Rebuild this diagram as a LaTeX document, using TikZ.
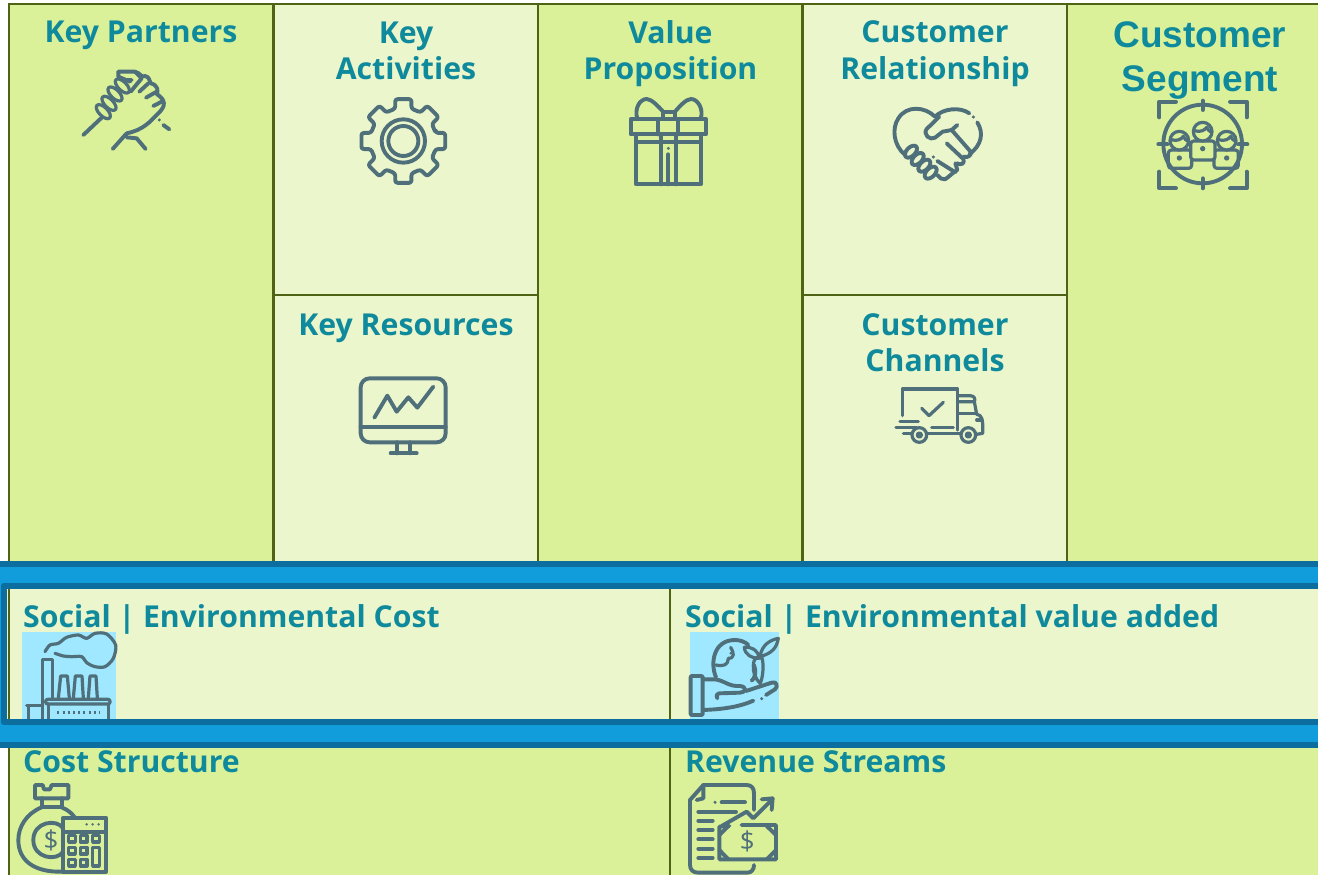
\documentclass[tikz,border=0pt]{standalone}
\usepackage{fontspec}
\setmainfont{Open Sans}
\newfontfamily\arialfont{Liberation Sans}
\definecolor{cellgreen}{HTML}{DAF19A}
\definecolor{celllight}{HTML}{EBF6CC}
\definecolor{gridline}{HTML}{4F6314}
\definecolor{bandblue}{HTML}{119DDB}
\definecolor{banddark}{HTML}{0B6E9F}
\definecolor{labelteal}{HTML}{0F8A9D}
\definecolor{iconcol}{HTML}{4F6F7A}
\definecolor{iconback}{HTML}{9FE8FF}
\tikzset{
  cellbox/.style={draw=gridline,line width=2.4pt},
  cellgr/.style={cellbox,fill=cellgreen},
  celllt/.style={cellbox,fill=celllight},
  lab/.style={text=labelteal,font=\fontsize{30.2}{36.5}\selectfont\bfseries,align=center,inner sep=0pt},
  leftlab/.style={lab,anchor=west},
  seglab/.style={text=labelteal,font=\arialfont\fontsize{37}{43.5}\selectfont\bfseries,align=center,inner sep=0pt},
  ic/.style={draw=iconcol,line width=3.9pt,line cap=round,line join=round},
  icsm/.style={ic,line width=3.2pt},
  zoomed/.style={x=0.33333pt,y=-0.33333pt}
}
\begin{document}
\begin{tikzpicture}[x=1pt,y=-1pt]
\clip (0,0) rectangle (1318,875);
\fill[white] (0,0) rectangle (1318,875);
% grid
\draw[cellgr] (9,4) rectangle (273.5,570);
\draw[celllt] (273.5,4) rectangle (538,295);
\draw[celllt] (273.5,295) rectangle (538,570);
\draw[cellgr] (538,4) rectangle (802.5,570);
\draw[celllt] (802.5,4) rectangle (1067,295);
\draw[celllt] (802.5,295) rectangle (1067,570);
\draw[cellgr] (1067,4) rectangle (1325,570);
\draw[cellgr] (9,735) rectangle (670,885);
\draw[cellgr] (670,735) rectangle (1325,885);
% bands
\draw[draw=banddark,fill=bandblue,line width=6pt] (-6,563.5) rectangle (1326,744.5);
\fill[celllight] (3.5,586) rectangle (1326,722);
\draw[gridline,line width=2.4pt] (9,586) -- (9,722);
\draw[gridline,line width=2.4pt] (670,586) -- (670,722);
\fill[iconback] (22,632) rectangle (116,722);
\fill[iconback] (689.7,632) rectangle (778.7,722);
% factory
\begin{scope}[shift={(0,550)},zoomed]
 \draw[icsm] (128,510) -- (128,328) -- (157,328) -- (157,445);
 \draw[icsm] (175,445) -- (182,378) -- (202,378) -- (208,445);
 \draw[icsm] (220,445) -- (226,378) -- (246,378) -- (250,445);
 \draw[icsm] (265,445) -- (270,378) -- (288,378) -- (292,445);
 \draw[icsm,rounded corners=2pt] (137,448) rectangle (330,462);
 \draw[icsm] (145,462) -- (145,510) (325,462) -- (325,510);
 \draw[icsm] (80,466) -- (128,466) (85,470) -- (85,510);
 \draw[icsm,line cap=butt,dash pattern=on 2pt off 3.2pt] (172,488) -- (300,488);
 \draw[icsm] plot[smooth] coordinates {(135,305) (150,285) (175,280) (200,262) (235,255) (260,265) (285,250) (320,252) (347,285) (340,325) (315,350) (285,350) (260,338) (245,320) (215,320) (190,318) (165,310)};
\end{scope}
% globe in hand
\begin{scope}[shift={(660,590)},zoomed]
 \draw[ic,rounded corners=1pt] (92,258) rectangle (128,375);
 \draw[ic] (128,268) -- (165,268) .. controls (195,272) and (205,290) .. (240,288) .. controls (262,290) and (258,308) .. (240,308) -- (178,310) .. controls (168,312) and (168,322) .. (172,325);
 \draw[ic] (128,360) .. controls (190,358) and (240,350) .. (280,332);
 \draw[ic] (258,303) -- (335,278) .. controls (350,272) and (355,290) .. (345,298) -- (318,315);
 \fill[iconcol] (305,326) circle[radius=5];
 \draw[ic] (168,262) .. controls (150,220) and (160,150) .. (225,150) .. controls (240,150) and (255,155) .. (265,165);
 \draw[ic] (282,225) .. controls (290,245) and (285,265) .. (275,272);
 \draw[icsm] (168,225) .. controls (190,230) and (205,225) .. (205,205) .. controls (225,205) and (222,188) .. (212,172);
 \fill[iconcol] (212,190) circle[radius=4];
 \draw[icsm] (300,200) .. controls (305,165) and (330,150) .. (355,145) .. controls (350,175) and (335,190) .. (300,200);
 \draw[icsm] (300,205) .. controls (290,175) and (270,170) .. (253,172) .. controls (255,195) and (275,205) .. (298,205);
 \draw[icsm] (280,225) .. controls (280,210) and (290,195) .. (305,200) .. controls (315,230) and (305,275) .. (300,280) .. controls (285,265) and (278,245) .. (280,225);
\end{scope}
% frame
\draw[banddark,line width=6pt,line join=round] (3.5,586) rectangle (1326,722);
% key partners icon
\begin{scope}[shift={(60,50)},zoomed]
 \draw[ic] (70,255) -- (125,203);
 \foreach \cx/\cy in {130/185,147/160,165/132,187/108}
   \draw[icsm,fill=cellgreen] (\cx,\cy) ellipse[x radius=27,y radius=13,rotate=-45];
 \draw[ic] (175,65) -- (225,65) .. controls (240,68) and (245,85) .. (255,78) .. controls (268,80) and (268,92) .. (272,100) .. controls (295,105) and (295,125) .. (290,132) .. controls (318,150) and (318,168) .. (295,190) .. controls (270,215) and (250,240) .. (200,250);
 \draw[ic] (158,297) -- (200,250) (200,262) -- (230,265) -- (257,297);
 \draw[ic] (238,125) -- (265,100) (258,143) -- (290,125) (280,168) -- (305,155);
 \draw[ic] (175,65) -- (175,80) -- (210,95) (187,90) -- (215,90) (212,125) -- (245,85) -- (225,65);
 \fill[iconcol] (298,210) circle[radius=5];
 \draw[ic] (310,225) -- (328,238);
\end{scope}
% gear
\begin{scope}[shift={(340,85)},zoomed]
 \begin{scope}[shift={(190,168)}]
  \draw[ic,rounded corners=2.5pt] (0-14:100) \foreach \a in {0,45,...,315} { -- (\a-14:100) -- (\a-11:128) -- (\a+11:128) -- (\a+14:100)} -- cycle;
  \draw[ic] (0,0) circle[radius=65];
  \draw[ic] (0,0) circle[radius=45];
 \end{scope}
\end{scope}
% gift
\begin{scope}[shift={(610,85)},zoomed]
 \draw[ic] (62,102) rectangle (288,148);
 \draw[ic] (145,102) -- (145,148) (205,102) -- (205,148);
 \draw[ic] (78,148) rectangle (273,298);
 \draw[ic] (78,172) -- (273,172);
 \draw[ic] (153,148) -- (153,298) (197,148) -- (197,298);
 \draw[ic] (175,208) -- (175,298);
 \fill[iconcol] (175,190) circle[radius=5];
 \draw[ic] (160,80) rectangle (195,102);
 \draw[ic] (82,102) .. controls (72,70) and (90,42) .. (110,42) .. controls (125,42) and (145,65) .. (160,80);
 \draw[ic] (272,102) .. controls (282,70) and (262,42) .. (243,42) .. controls (228,42) and (208,65) .. (195,80);
\end{scope}
% heart handshake
\begin{scope}[shift={(880,95)},zoomed]
 \draw[ic] (75,180) .. controls (40,150) and (35,100) .. (55,70) .. controls (80,30) and (135,35) .. (165,65) .. controls (190,40) and (240,35) .. (268,55);
 \fill[iconcol] (280,66) circle[radius=5];
 \draw[ic] (292,82) .. controls (312,115) and (305,150) .. (268,178);
 \draw[ic] (178,65) -- (140,102) .. controls (128,118) and (150,138) .. (165,128) -- (188,110) -- (215,105) -- (232,90);
 \draw[ic] (215,105) -- (272,170) .. controls (275,180) and (265,190) .. (250,185);
 \draw[ic] (200,145) -- (250,192) .. controls (255,205) and (245,212) .. (230,205);
 \draw[ic] (172,198) -- (226,232) (226,205) -- (232,225) .. controls (215,235) and (208,245) .. (195,253) .. controls (185,255) and (178,248) .. (172,240);
 \foreach \cx/\cy in {93/170,113/192,133/212,152/233}
   \draw[ic,fill=celllight] (\cx,\cy) ellipse[x radius=22,y radius=13,rotate=45];
 \fill[iconcol] (160,186) circle[radius=5];
\end{scope}
% target people
\begin{scope}[shift={(1140,90)},zoomed]
 \draw[ic] (188,162) circle[radius=118];
 \draw[ic] (188,32) -- (188,60) (188,265) -- (188,295) (55,163) -- (82,163) (295,163) -- (322,163);
 \draw[ic] (58,82) -- (58,35) -- (108,35) (270,35) -- (320,35) -- (320,82) (58,245) -- (58,295) -- (108,295) (270,295) -- (320,295) -- (320,245);
 \draw[icsm,rounded corners=3pt] (85,235) -- (85,180) -- (155,180) -- (155,235) -- cycle;
 \draw[icsm,rounded corners=3pt] (222,235) -- (222,180) -- (295,180) -- (295,235) -- cycle;
 \draw[icsm,fill=cellgreen,rounded corners=3pt] (152,210) -- (152,153) -- (225,153) -- (225,210) -- cycle;
 \draw[icsm,fill=cellgreen] (188,125) circle[radius=28];
 \draw[icsm,fill=cellgreen] (118,152) circle[radius=28];
 \draw[icsm,fill=cellgreen] (260,152) circle[radius=28];
 \draw[icsm] (163,122) .. controls (182,128) and (195,120) .. (200,112) .. controls (205,120) and (208,125) .. (213,126);
 \draw[icsm] (93,149) .. controls (112,155) and (125,147) .. (130,139) .. controls (135,147) and (138,152) .. (143,153);
 \draw[icsm] (235,149) .. controls (254,155) and (267,147) .. (272,139) .. controls (277,147) and (280,152) .. (285,153);
 \fill[iconcol] (188,176) circle[radius=8] (118,204) circle[radius=8] (260,204) circle[radius=8];
\end{scope}
% monitor
\begin{scope}[shift={(345,365)},zoomed]
 \draw[ic,rounded corners=9pt] (47,40) rectangle (302,232);
 \draw[ic] (47,185) -- (302,185);
 \draw[ic] (155,232) -- (155,265) (195,232) -- (195,265) (137,265) -- (215,265);
 \draw[ic] (88,158) -- (127,92) -- (155,140) -- (190,97) -- (217,128) -- (265,65);
\end{scope}
% truck
\begin{scope}[shift={(885,375)},zoomed]
 \draw[icsm] (52,122) -- (52,42) -- (218,42) -- (218,165);
 \draw[icsm] (110,100) -- (132,122) -- (175,82);
 \draw[icsm] (45,140) -- (100,140) (33,157) -- (95,157) (55,175) -- (80,175) (140,157) -- (205,157) (125,175) -- (228,175);
 \draw[icsm] (218,62) -- (255,62) .. controls (268,62) and (272,72) .. (268,80) -- (222,80) (268,80) -- (275,118) .. controls (290,120) and (295,130) .. (293,175) -- (275,178);
 \draw[icsm] (222,115) -- (275,115) (275,135) -- (290,135);
 \draw[icsm,fill=celllight] (103,180) circle[radius=22] (250,180) circle[radius=22];
 \draw[icsm] (103,180) circle[radius=6] (250,180) circle[radius=6];
\end{scope}
% money bag with calculator
\begin{scope}[shift={(0,550)},zoomed]
 \draw[ic] (105,705) -- (128,705) -- (132,718) -- (150,718) -- (155,705) -- (205,705) -- (205,745) -- (105,745) -- cycle;
 \draw[ic] (125,745) -- (125,772) -- (185,772) -- (185,745);
 \draw[ic] (125,772) .. controls (80,790) and (55,830) .. (55,870) .. controls (55,930) and (100,968) .. (190,965);
 \draw[ic] (185,772) .. controls (205,780) and (215,790) .. (225,803);
 \draw[ic] (190,835) .. controls (170,805) and (100,815) .. (100,870) .. controls (100,925) and (170,935) .. (190,905);
 \node[text=iconcol,font=\fontsize{26}{26}\selectfont,inner sep=0pt] (dollarA) at (153,872) {\$};
 \draw[ic] (190,803) rectangle (318,965);
 \draw[ic] (190,845) -- (318,845);
 \foreach \cx in {260,278,296} \fill[iconcol] (\cx,823) circle[radius=4];
 \foreach \cx/\cy in {206/856,241/856,278/856,206/892,241/892,206/928,241/928}
   \draw[icsm] (\cx,\cy) rectangle +(20,20);
 \draw[icsm] (278,892) rectangle (298,948);
\end{scope}
% revenue document
\begin{scope}[shift={(660,590)},zoomed]
 \draw[ic] (282,660) -- (282,610) .. controls (282,595) and (275,585) .. (260,585) -- (130,585) -- (90,630) -- (90,825) .. controls (90,840) and (100,848) .. (115,848) -- (262,848) .. controls (275,848) and (282,838) .. (282,825);
 \draw[ic] (130,585) -- (130,625) -- (110,630);
 \fill[iconcol] (165,637) circle[radius=5];
 \draw[ic] (185,637) -- (255,637) (115,665) -- (228,665) (115,692) -- (158,692) (115,720) -- (158,720) (115,748) -- (158,748) (115,776) -- (158,776) (115,804) -- (158,804);
 \draw[ic] (185,708) -- (260,665) -- (280,685) -- (335,630) (305,628) -- (338,625) -- (335,660);
 \draw[ic] (245,705) -- (348,705) -- (348,808) -- (178,808) -- (178,710) -- (208,708);
 \draw[ic] (178,735) -- (205,708) (178,780) -- (205,808) (348,735) -- (320,708) (348,780) -- (320,808);
 \node[text=iconcol,font=\fontsize{26}{26}\selectfont,inner sep=0pt] (dollarB) at (262,755) {\$};
\end{scope}
% labels
\node[lab] (keypartners) at (141,35.5) {Key Partners};
\node[lab] (keyactivities) at (406,51) {Key\\Activities};
\node[lab] (valueprop) at (670.5,53.5) {Value\\Proposition};
\node[lab] (custrel) at (935,53.5) {Customer\\Relationship};
\node[seglab] (custseg) at (1200,60.5) {Customer\\Segment};
\node[lab] (keyres) at (406,328) {Key Resources};
\node[lab] (custchan) at (935,342.5) {Customer\\Channels};
\node[leftlab] (socialcost) at (23,619) {Social | Environmental Cost};
\node[leftlab] (socialvalue) at (685,619) {Social | Environmental value added};
\node[leftlab] (coststruct) at (23,762) {Cost Structure};
\node[leftlab] (revenue) at (685,762) {Revenue Streams};
\end{tikzpicture}
\end{document}
